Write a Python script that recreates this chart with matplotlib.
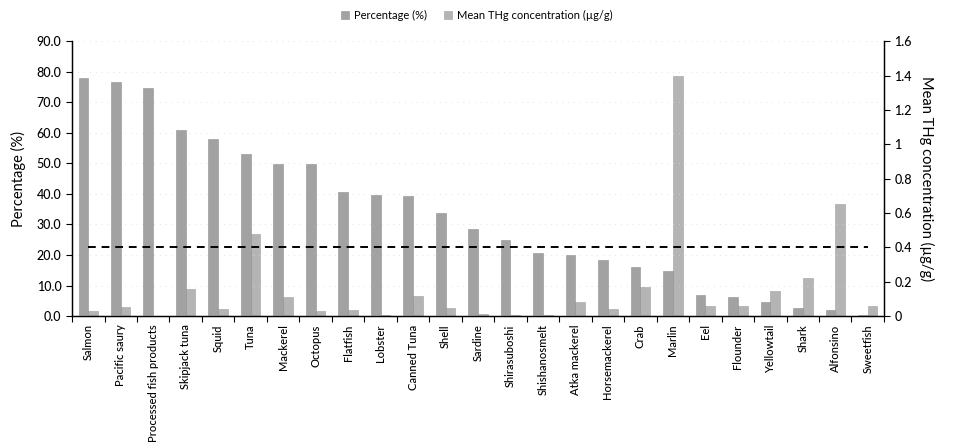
import matplotlib
matplotlib.use("Agg")
import matplotlib.pyplot as plt
from matplotlib.ticker import FixedLocator, FuncFormatter
import numpy as np

plt.rcParams['font.family'] = ['Lato', 'DejaVu Sans']

categories = ["Salmon", "Pacific saury", "Processed fish products", "Skipjack tuna",
              "Squid", "Tuna", "Mackerel", "Octopus", "Flatfish", "Lobster",
              "Canned Tuna", "Shell", "Sardine", "Shirasuboshi", "Shishanosmelt",
              "Atka mackerel", "Horsemackerel", "Crab", "Marlin", "Eel", "Flounder",
              "Yellowtail", "Shark", "Alfonsino", "Sweetfish"]

percentage = [78.0, 76.8, 74.6, 61.0, 57.9, 53.0, 49.9, 49.7, 40.5, 39.7,
              39.3, 33.9, 28.6, 24.8, 20.8, 20.1, 18.4, 16.0, 14.9, 6.9,
              6.1, 4.7, 2.5, 2.0, 0.3]

mean_thg = [0.03, 0.05, 0.0, 0.156, 0.039, 0.48, 0.109, 0.031, 0.035, 0.005,
            0.117, 0.049, 0.01, 0.005, 0.004, 0.083, 0.043, 0.167, 1.40, 0.058,
            0.058, 0.148, 0.221, 0.653, 0.058]

reference_level = [0.4] * len(categories)

x = np.arange(len(categories))
w = 0.3

fig = plt.figure(figsize=(9.54, 4.48), dpi=100)
ax = fig.add_axes([0.0755, 0.2946, 0.8511, 0.613])
ax2 = ax.twinx()

ax.set_zorder(1)
ax.patch.set_visible(False)

b1 = ax.bar(x - w / 2, percentage, width=w, color="#a2a2a2", edgecolor="#909090",
            linewidth=0.4, label="Percentage (%)")
b2 = ax2.bar(x + w / 2, mean_thg, width=w, color="#b4b4b4", edgecolor="#a0a0a0",
             linewidth=0.4, label="Mean THg concentration (\u00b5g/g)")
ax.plot(x, np.array(reference_level) * 90 / 1.6, color="black", linestyle=(0, (4, 3)),
        linewidth=1.4, zorder=3)

ax.set_xlim(-0.5, len(categories) - 0.5)
ax.set_ylim(0, 90)
ax2.set_ylim(0, 1.6)

ax.set_yticks(np.arange(0, 91, 10))
ax.yaxis.set_major_formatter(FuncFormatter(lambda v, p: f"{v:.1f}"))
ax2.set_yticks(np.arange(0, 1.61, 0.2))
ax2.yaxis.set_major_formatter(FuncFormatter(lambda v, p: f"{round(v, 1):g}"))

for yv in np.arange(10, 91, 10):
    ax.axhline(yv, color="#d8d8d8", linewidth=0.6, linestyle=(0, (1, 6)), zorder=0)

ax.set_xticks(x)
ax.set_xticklabels(categories, rotation=90, fontsize=8, fontweight="medium")
ax.tick_params(axis="x", which="major", length=0, pad=6)
ax.xaxis.set_minor_locator(FixedLocator(np.arange(-0.5, len(categories), 1)))
ax.tick_params(axis="x", which="minor", length=4, direction="out", width=0.8)

ax.tick_params(axis="y", labelsize=9, length=4, width=0.8, direction="out")
ax2.tick_params(axis="y", labelsize=9, length=4, width=0.8, direction="out")
for lbl in ax.get_yticklabels() + ax2.get_yticklabels():
    lbl.set_fontweight("medium")

for a in (ax, ax2):
    a.spines["top"].set_visible(False)
    for s in ("left", "right", "bottom"):
        a.spines[s].set_linewidth(0.9)

ax.set_ylabel("Percentage (%)", fontsize=10.5, labelpad=8)
ax2.set_ylabel("Mean THg concentration (\u00b5g/g)", fontsize=10.5, rotation=-90,
               labelpad=16)

fig.legend(handles=[b1, b2], loc="upper center", bbox_to_anchor=(0.5, 1.0), ncol=2,
           frameon=False, fontsize=8, handlelength=0.7, handleheight=0.7,
           columnspacing=1.5, handletextpad=0.5)

fig.savefig("out.png", dpi=100)
